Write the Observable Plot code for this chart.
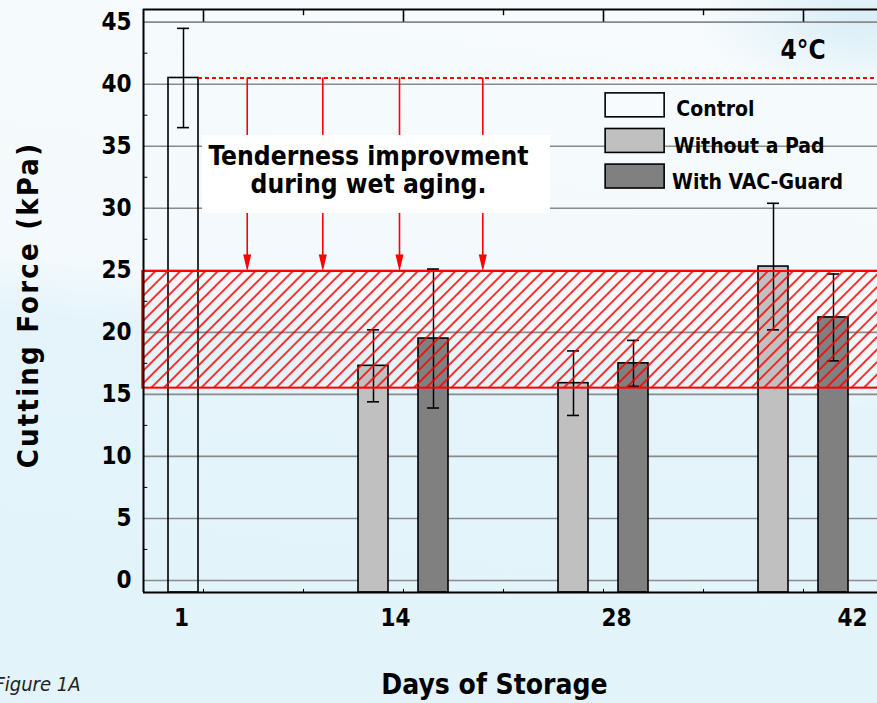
<!DOCTYPE html>
<html><head><meta charset="utf-8">
<script src="https://cdn.jsdelivr.net/npm/d3@7"></script>
<script src="https://cdn.jsdelivr.net/npm/@observablehq/plot@0.6"></script>
<style>
html,body{margin:0;padding:0;width:877px;height:703px;overflow:hidden;}
body{background:
  radial-gradient(ellipse 160px 70px at 860px 20px, rgba(214,236,246,0.9), rgba(214,236,246,0) 100%),
  linear-gradient(186.5deg,#f7fbfd 0%,#f3f9fc 44%,#e5f4fb 51%,#e2f3fa 100%);}
svg text{font-stretch:condensed;}
</style></head>
<body><div id="chart"></div>
<script>
// ---------- data ----------
const dayLabels = ["1", "14", "28", "42"];
const seriesNames = ["Control", "Without a Pad", "With VAC-Guard"];
const controlDays = [1];
const controlMeans = [40.5];
const controlErrors = [4.0];
const treatedDays = [14, 28, 42];
const withoutPadMeans = [17.3, 15.9, 25.3];
const withoutPadErrors = [2.9, 2.6, 5.1];
const vacGuardMeans = [19.5, 17.5, 21.2];
const vacGuardErrors = [5.6, 1.85, 3.5];
const tenderBand = [15.5, 24.9];          // hatched target range (kPa)
const yTicks = [0, 5, 10, 15, 20, 25, 30, 35, 40, 45];
const yMinorTicks = [2.5, 7.5, 12.5, 17.5, 22.5, 27.5, 32.5, 37.5, 42.5];
const xMajorTicks = [0, 14, 28, 42];
const xMinorTicks = [7, 21, 35];
const annotationText = ["Tenderness improvment", "during wet aging."];
const tempLabel = "4°C";
const yTitle = "Cutting Force (kPa)";
const xTitle = "Days of Storage";
const figLabel = "Figure 1A";

// ---------- layout ----------
const FONT = "'DejaVu Sans Condensed','DejaVu Sans',sans-serif";
const xMin = -4.2, xMax = 47.18, yMin = -0.97, yMax = 46.02;
const barW = 2.1, groupOffset = 2.1, controlOffset = -2.4, capHalf = 0.42;
const labelX = [-1.54, 13.44, 28.91, 45.43];
const arrowX = [3.06, 8.35, 13.72, 19.55];
const fills = {"Control": "none", "Without a Pad": "#c0c0c0", "With VAC-Guard": "#808080"};

const bars = [];
controlDays.forEach((d, i) => bars.push({s: "Control", c: d + controlOffset, v: controlMeans[i], e: controlErrors[i]}));
treatedDays.forEach((d, i) => {
  bars.push({s: "Without a Pad", c: d - groupOffset, v: withoutPadMeans[i], e: withoutPadErrors[i]});
  bars.push({s: "With VAC-Guard", c: d + groupOffset, v: vacGuardMeans[i], e: vacGuardErrors[i]});
});

const legend = seriesNames.map((s, i) => ({s, x1: 28.15, x2: 32.28, y2: 39.26 - i * 2.87, y1: 37.33 - i * 2.87,
  tx: [33.1, 32.92, 32.8][i], ty: 37.40 - i * 2.92}));

const defsMark = () => {
  const defs = d3.create("svg:defs");
  const p = defs.append("pattern").attr("id", "hatch").attr("patternUnits", "userSpaceOnUse")
    .attr("width", 8.84).attr("height", 8.84).attr("patternTransform", "rotate(45)");
  p.append("line").attr("x1", 1).attr("y1", -1).attr("x2", 1).attr("y2", 10)
    .attr("stroke", "#ff0000").attr("stroke-width", 1.6);
  return defs.node();
};

const downTriangle = {draw(ctx) { ctx.moveTo(0, 0); ctx.lineTo(-4, -17); ctx.lineTo(4, -17); ctx.closePath(); }};

const ctrlRight = controlDays[0] + controlOffset + barW / 2;

const chart = Plot.plot({
  width: 877, height: 703,
  marginLeft: 143, marginRight: 0, marginTop: 9, marginBottom: 111,
  x: {type: "linear", domain: [xMin, xMax], axis: null},
  y: {type: "linear", domain: [yMin, yMax], axis: null},
  style: {background: "transparent", overflow: "visible", fontFamily: FONT},
  marks: [
    defsMark,
    // gridlines
    Plot.ruleY(yTicks, {y: d => d, stroke: "#8a8a8a", strokeWidth: 1.6}),
    // bars
    Plot.rect(bars, {x1: d => d.c - barW / 2, x2: d => d.c + barW / 2, y1: () => yMin, y2: "v",
      fill: d => fills[d.s], stroke: "black", strokeWidth: 1.6}),
    // error bars
    Plot.ruleX(bars, {x: "c", y1: d => d.v - d.e, y2: d => d.v + d.e, stroke: "black", strokeWidth: 1.5}),
    Plot.ruleY(bars, {y: d => d.v + d.e, x1: d => d.c - capHalf, x2: d => d.c + capHalf, stroke: "black", strokeWidth: 1.6}),
    Plot.ruleY(bars, {y: d => d.v - d.e, x1: d => d.c - capHalf, x2: d => d.c + capHalf, stroke: "black", strokeWidth: 1.6}),
    // hatched band
    Plot.rect([tenderBand], {x1: () => xMin - 0.05, x2: () => xMax + 1, y1: d => d[0], y2: d => d[1],
      fill: "url(#hatch)", stroke: "#ff0000", strokeWidth: 2}),
    // dotted reference at control level
    Plot.ruleY(controlMeans, {y: d => d, x1: () => ctrlRight, x2: () => xMax, stroke: "#ff0000", strokeWidth: 2, strokeDasharray: "4,3"}),
    // arrows
    Plot.ruleX(arrowX, {x: d => d, y1: () => controlMeans[0], y2: () => tenderBand[1] + 1, stroke: "#ff0000", strokeWidth: 1.6}),
    Plot.dot(arrowX, {x: d => d, y: () => tenderBand[1], symbol: downTriangle, fill: "#ff0000", stroke: "none", r: 5}),
    // annotation box
    Plot.rect([0], {x1: () => -0.07, x2: () => 24.29, y1: () => 29.58, y2: () => 35.87, fill: "white"}),
    Plot.text(annotationText, {x: () => 11.55, y: (d, i) => [33.45, 31.19][i], text: d => d, lineAnchor: "bottom",
      textAnchor: "middle", fontSize: 26.2, fontWeight: "bold", fill: "black"}),
    // temperature label
    Plot.text([tempLabel], {x: () => 40.39, y: () => 42.07, text: d => d, textAnchor: "start", lineAnchor: "bottom",
      fontSize: 26, fontWeight: "bold", fill: "black"}),
    // legend
    Plot.rect(legend, {x1: "x1", x2: "x2", y1: "y1", y2: "y2", fill: d => d.s === "Control" ? "#f8fbfd" : fills[d.s], stroke: "black", strokeWidth: 1.6}),
    Plot.text(legend, {x: "tx", y: "ty", text: "s", textAnchor: "start", lineAnchor: "bottom", fontSize: 21, fontWeight: "bold", fill: "black"}),
    // axes frame
    Plot.ruleX([xMin], {x: d => d, y1: () => yMin, y2: () => yMax, stroke: "black", strokeWidth: 2}),
    Plot.ruleY([yMin, yMax], {y: d => d, x1: () => xMin, x2: () => xMax, stroke: "black", strokeWidth: 2}),
    Plot.ruleY(yMinorTicks, {y: d => d, x1: () => xMin, x2: () => xMin + 0.3, stroke: "black", strokeWidth: 1}),
    Plot.ruleX(xMajorTicks, {x: d => d, y1: () => yMax, y2: () => 45, stroke: "black", strokeWidth: 1.6}),
    Plot.ruleX(xMinorTicks, {x: d => d, y1: () => yMax, y2: () => yMax - 0.5, stroke: "black", strokeWidth: 1.4}),
    Plot.ruleX(xMajorTicks.concat(xMinorTicks), {x: d => d, y1: () => yMin, y2: () => yMin + 0.25, stroke: "black", strokeWidth: 1}),
    // tick labels
    Plot.text(yTicks, {y: d => d, text: d => String(d), frameAnchor: "left", dx: -12, textAnchor: "end",
      fontSize: 24, fontWeight: "bold", fill: "black"}),
    Plot.text(dayLabels, {x: (d, i) => labelX[i], y: () => yMin, text: d => d, lineAnchor: "bottom", dy: 33,
      fontSize: 24, fontWeight: "bold", fill: "black"}),
    // axis titles
    Plot.text([yTitle], {frameAnchor: "left", text: d => d, rotate: -90, dx: -115, dy: 4, textAnchor: "middle",
      lineAnchor: "middle", fontSize: 29, fontWeight: "bold", fill: "black"}),
    Plot.text([xTitle], {frameAnchor: "bottom", text: d => d, dx: -16, dy: 101, lineAnchor: "bottom",
      textAnchor: "middle", fontSize: 28, fontWeight: "bold", fill: "black"}),
    Plot.text([figLabel], {frameAnchor: "bottom-left", text: d => d, dx: -63, dy: 98, textAnchor: "end", lineAnchor: "bottom",
      fontSize: 20, fontStyle: "italic", fill: "#222"})
  ]
});
d3.select(chart).selectAll("text").filter(function () { return this.textContent === yTitle; })
  .attr("letter-spacing", "2.2px");
document.getElementById("chart").appendChild(chart);
</script>
</body></html>
